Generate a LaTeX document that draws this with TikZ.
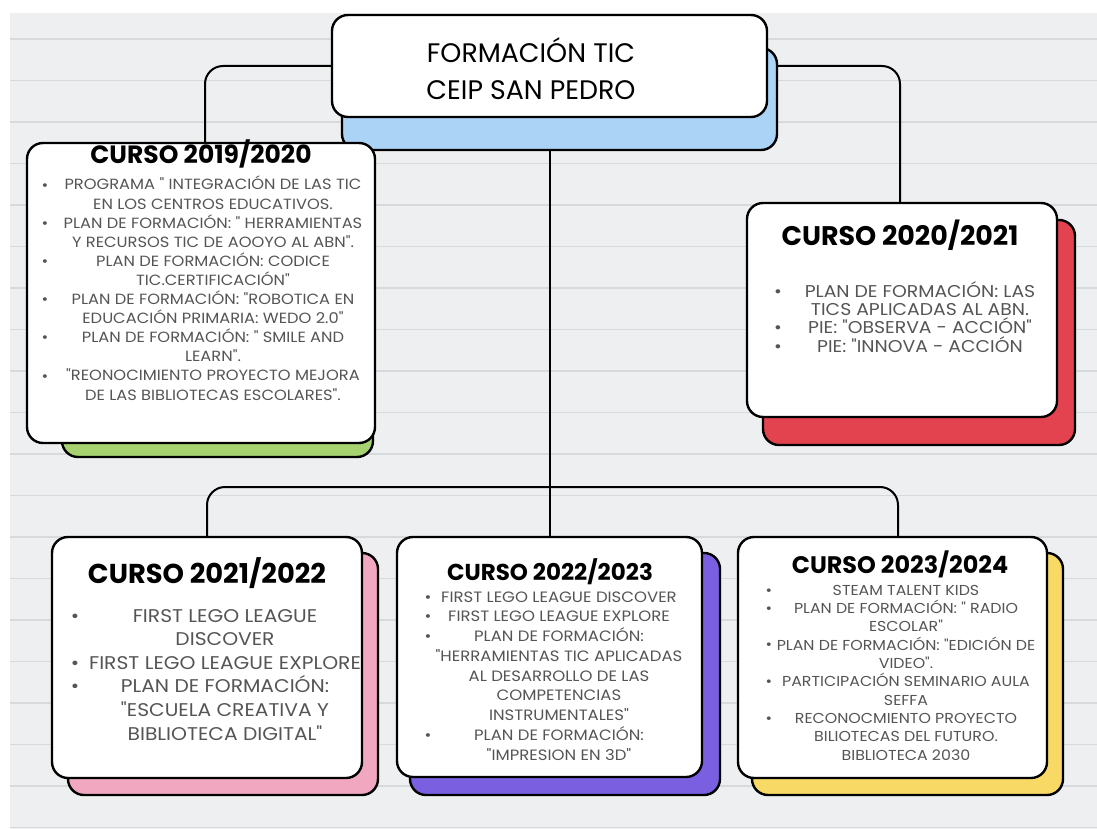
\documentclass[tikz,border=0pt]{standalone}
\usepackage{fontspec}
\setmainfont{Poppins}
\newfontfamily\bodyfont[FakeStretch=1.1]{Poppins}
\definecolor{paper}{RGB}{237,239,240}
\definecolor{rule}{RGB}{215,218,221}
\definecolor{bodygray}{RGB}{85,85,85}
\definecolor{shblue}{RGB}{170,211,246}
\definecolor{shgreen}{RGB}{166,210,111}
\definecolor{shred}{RGB}{226,67,78}
\definecolor{shpink}{RGB}{242,167,192}
\definecolor{shpurple}{RGB}{122,95,224}
\definecolor{shyellow}{RGB}{248,217,102}
\pgfdeclarelayer{paperlayer}
\pgfdeclarelayer{links}
\pgfsetlayers{paperlayer,links,main}
\begin{document}
\begin{tikzpicture}[x=1pt,y=-1pt,
  box/.style={draw=black, line width=2.4pt, rounded corners=16pt, fill=white, inner sep=0pt},
  shadowbox/.style={draw=black, line width=2.4pt, rounded corners=16pt, inner sep=0pt},
  conn/.style={draw=black, line width=2pt, rounded corners=18pt},
  body/.style={text=bodygray, inner sep=0pt, anchor=base, align=center},
  bul/.style={text=bodygray, inner sep=0pt, anchor=base, align=center},
  ttl/.style={inner sep=0pt, anchor=base, align=center}]
\useasboundingbox (0,0) rectangle (1097,829);
\begin{pgfonlayer}{paperlayer}
  \fill[white] (0,0) rectangle (1097,829);
  \fill[paper] (10,13) rectangle (1097,829);
  \foreach \k in {0,...,19} {\draw[rule, line width=1.2pt] (10,39+41.5*\k) -- (1097,39+41.5*\k);}
\end{pgfonlayer}

% top box
\node[shadowbox, fill=shblue, minimum width=435pt, minimum height=102pt] (topsh) at (559.5,99) {};
\node[box, minimum width=435pt, minimum height=102pt] (top) at (549.5,66) {};
\node[ttl, font=\fontsize{26.8}{37}\selectfont] (toptxt) at (531,100) {FORMACIÓN TIC\\CEIP SAN PEDRO};

% 2019/2020
\node[shadowbox, fill=shgreen, minimum width=311pt, minimum height=299pt] (b1sh) at (217.5,307.5) {};
\node[box, minimum width=348pt, minimum height=300pt] (b1) at (201,293) {};
\node[ttl, font=\fontsize{25}{28}\selectfont\bfseries] (t1) at (201,164) {CURSO 2019/2020};
\node[body, font=\bodyfont\fontsize{14.8}{19.1}\selectfont] (i1) at (213,400) {PROGRAMA " INTEGRACIÓN DE LAS TIC\\EN LOS CENTROS EDUCATIVOS.\\PLAN DE FORMACIÓN: " HERRAMIENTAS\\Y RECURSOS TIC DE AOOYO AL ABN".\\PLAN DE FORMACIÓN: CODICE\\TIC.CERTIFICACIÓN"\\PLAN DE FORMACIÓN: "ROBOTICA EN\\EDUCACIÓN PRIMARIA: WEDO 2.0"\\PLAN DE FORMACIÓN: " SMILE AND\\LEARN".\\"REONOCIMIENTO PROYECTO MEJORA\\DE LAS BIBLIOTECAS ESCOLARES".};
\node[bul, font=\bodyfont\fontsize{14.8}{19.1}\selectfont] (u1) at (45,381) {•\\\mbox{}\\•\\\mbox{}\\•\\\mbox{}\\•\\\mbox{}\\•\\\mbox{}\\•};

% 2020/2021
\node[shadowbox, fill=shred, minimum width=312pt, minimum height=225pt] (b2sh) at (919,332.5) {};
\node[box, minimum width=310pt, minimum height=214pt] (b2) at (902,310) {};
\node[ttl, font=\fontsize{26.9}{30}\selectfont\bfseries] (t2) at (900,245) {CURSO 2020/2021};
\node[body, font=\bodyfont\fontsize{17.1}{18.3}\selectfont] (i2) at (920,352) {PLAN DE FORMACIÓN: LAS\\TICS APLICADAS AL ABN.\\PIE: "OBSERVA - ACCIÓN"\\PIE: "INNOVA - ACCIÓN};
\node[bul, font=\bodyfont\fontsize{17.1}{18.3}\selectfont] (u2) at (778,352) {•\\\mbox{}\\•\\•};

% 2021/2022
\node[shadowbox, fill=shpink, minimum width=310pt, minimum height=242pt] (b3sh) at (223,674) {};
\node[box, minimum width=310pt, minimum height=241pt] (b3) at (207,657.5) {};
\node[ttl, font=\fontsize{27.3}{30}\selectfont\bfseries] (t3) at (207,583) {CURSO 2021/2022};
\node[body, font=\bodyfont\fontsize{18.4}{23.6}\selectfont] (i3) at (225,740) {FIRST LEGO LEAGUE\\DISCOVER\\FIRST LEGO LEAGUE EXPLORE\\PLAN DE FORMACIÓN:\\"ESCUELA CREATIVA Y\\BIBLIOTECA DIGITAL"};
\node[bul, font=\bodyfont\fontsize{18.4}{23.6}\selectfont] (u3) at (75,692.8) {•\\\mbox{}\\•\\•};

% 2022/2023
\node[shadowbox, fill=shpurple, minimum width=310pt, minimum height=242pt] (b4sh) at (565,674) {};
\node[box, minimum width=305pt, minimum height=240pt] (b4) at (549.5,657) {};
\node[ttl, font=\fontsize{23}{26}\selectfont\bfseries] (t4) at (550,580) {CURSO 2022/2023};
\node[body, font=\bodyfont\fontsize{15}{19.75}\selectfont] (i4) at (559,760) {FIRST LEGO LEAGUE DISCOVER\\FIRST LEGO LEAGUE EXPLORE\\PLAN DE FORMACIÓN:\\"HERRAMIENTAS TIC APLICADAS\\AL DESARROLLO DE LAS\\COMPETENCIAS\\INSTRUMENTALES"\\PLAN DE FORMACIÓN:\\"IMPRESION EN 3D"};
\node[bul, font=\bodyfont\fontsize{15}{19.75}\selectfont] (u4) at (428,740.25) {•\\•\\•\\\mbox{}\\\mbox{}\\\mbox{}\\\mbox{}\\•};

% 2023/2024
\node[shadowbox, fill=shyellow, minimum width=311pt, minimum height=242pt] (b5sh) at (907.5,674) {};
\node[box, minimum width=309pt, minimum height=241pt] (b5) at (892.5,657.5) {};
\node[ttl, font=\fontsize{23.9}{27}\selectfont\bfseries] (t5) at (900,573) {CURSO 2023/2024};
\node[body, font=\bodyfont\fontsize{14.4}{18.3}\selectfont] (i5) at (906,760) {STEAM TALENT KIDS\\PLAN DE FORMACIÓN: " RADIO\\ESCOLAR"\\PLAN DE FORMACIÓN: "EDICIÓN DE\\VIDEO".\\PARTICIPACIÓN SEMINARIO AULA\\SEFFA\\RECONOCMIENTO PROYECTO\\BILIOTECAS DEL FUTURO.\\BIBLIOTECA 2030};
\node[bul, font=\bodyfont\fontsize{14.4}{18.3}\selectfont] (u5) at (769,723.1) {•\\•\\\mbox{}\\•\\\mbox{}\\•\\\mbox{}\\•};

% connectors
\coordinate (bar) at (549.5,487);
\begin{pgfonlayer}{links}
  \draw[conn] (top.west) -| ([xshift=4pt]b1.north);
  \draw[conn] (top.east) -| ([xshift=-2pt]b2.north);
  \draw[conn] (top.south) -- (b4.north);
  \draw[conn] (b3.north) |- (bar) -| ([xshift=5.5pt]b5.north);
\end{pgfonlayer}
\end{tikzpicture}
\end{document}
